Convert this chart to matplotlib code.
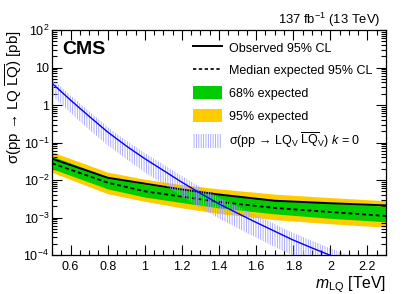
import numpy as np
import matplotlib
matplotlib.use("Agg")
import matplotlib.pyplot as plt
from matplotlib.ticker import FixedLocator, LogLocator, NullFormatter, MultipleLocator
from matplotlib.patches import Patch
from matplotlib.lines import Line2D

plt.rcParams['font.family'] = ['Liberation Sans', 'DejaVu Sans']
plt.rcParams['mathtext.fontset'] = 'custom'
plt.rcParams['mathtext.rm'] = 'Liberation Sans'
plt.rcParams['mathtext.it'] = 'Liberation Sans:italic'
plt.rcParams['mathtext.bf'] = 'Liberation Sans:bold'
plt.rcParams['hatch.linewidth'] = 0.6

# ---- data ----
masses = [0.5, 0.8, 1.0, 1.2, 1.4, 1.7, 2.0, 2.3]
observed = [0.037, 0.0115, 0.0080, 0.0056, 0.0041, 0.0028, 0.0024, 0.0021]
expected = [0.028, 0.0085, 0.0050, 0.0036, 0.0026, 0.0018, 0.0014, 0.0011]
band68_hi = [0.043, 0.0122, 0.0076, 0.0055, 0.0041, 0.0030, 0.0024, 0.0020]
band68_lo = [0.020, 0.0058, 0.0035, 0.0025, 0.0018, 0.00125, 0.00095, 0.00077]
band95_hi = [0.056, 0.0162, 0.0105, 0.0075, 0.0058, 0.0042, 0.0034, 0.0028]
band95_lo = [0.016, 0.0043, 0.0027, 0.0018, 0.00128, 0.00088, 0.00068, 0.00055]

theory_masses = [0.5, 0.6, 0.7, 0.8, 0.9, 1.0, 1.1, 1.2, 1.3, 1.4, 1.5,
                 1.6, 1.7, 1.8, 1.9, 2.0, 2.1, 2.2, 2.3]
theory = [3.8, 1.35, 0.50, 0.19, 0.081, 0.037, 0.018, 0.0087, 0.0044, 0.0023,
          0.0013, 7.4e-4, 4.3e-4, 2.5e-4, 1.55e-4, 9.8e-5, 6.3e-5, 4.1e-5, 2.7e-5]
theory_hi = [5.0, 1.8, 0.68, 0.26, 0.112, 0.052, 0.026, 0.0127, 0.0065, 0.0034,
             0.0020, 1.15e-3, 6.7e-4, 3.9e-4, 2.4e-4, 1.5e-4, 9.8e-5, 6.4e-5, 4.2e-5]
theory_lo = [1.8, 0.62, 0.22, 0.085, 0.036, 0.016, 0.0078, 0.0037, 0.0018, 9.4e-4,
             5.2e-4, 2.9e-4, 1.65e-4, 9.5e-5, 5.8e-5, 3.6e-5, 2.3e-5, 1.5e-5, 9.8e-6]

xticks = [0.6, 0.8, 1.0, 1.2, 1.4, 1.6, 1.8, 2.0, 2.2]
xticklabels = ['0.6', '0.8', '1', '1.2', '1.4', '1.6', '1.8', '2', '2.2']
yticks = [1e-4, 1e-3, 1e-2, 1e-1, 1, 10, 100]
yticklabels = [r'$10^{-4}$', r'$10^{-3}$', r'$10^{-2}$', r'$10^{-1}$', '1', '10', r'$10^{2}$']

GREEN = '#00cc00'
YELLOW = '#ffcc00'
BLUE = '#0000ff'
HATCH = '#a0a0ff'
HATCH_PAT = '|' * 7

fig = plt.figure(figsize=(4.07, 2.94), dpi=100)
ax = fig.add_axes([52/407, 39/294, 334/407, 225/294])

ax.fill_between(masses, band95_lo, band95_hi, color=YELLOW, lw=0, zorder=1)
ax.fill_between(masses, band68_lo, band68_hi, color=GREEN, lw=0, zorder=2)
ax.plot(masses, expected, color='black', lw=1.3, ls=(0, (2.2, 1.6)), zorder=3)
ax.plot(masses, observed, color='black', lw=1.4, zorder=3)
ax.fill_between(theory_masses, theory_lo, theory_hi, facecolor='none',
                edgecolor=HATCH, hatch=HATCH_PAT, lw=0, zorder=4)
ax.plot(theory_masses, theory, color=BLUE, lw=1.0, zorder=5)

ax.set_yscale('log')
ax.set_xlim(0.5, 2.3)
ax.set_ylim(1e-4, 100)

ax.xaxis.set_major_locator(FixedLocator(xticks))
ax.set_xticklabels(xticklabels)
ax.xaxis.set_minor_locator(MultipleLocator(0.05))
ax.yaxis.set_major_locator(FixedLocator(yticks))
ax.set_yticklabels(yticklabels)
ax.yaxis.set_minor_locator(LogLocator(base=10, subs=np.arange(2, 10)))
ax.yaxis.set_minor_formatter(NullFormatter())

ax.tick_params(which='both', direction='in', top=True, right=True, labelsize=9, color='black', width=0.8)
ax.tick_params(which='major', length=7)
ax.tick_params(which='minor', length=3.5)
ax.tick_params(axis='x', pad=4)
ax.tick_params(axis='y', pad=2)
for s in ax.spines.values():
    s.set_linewidth(0.9)

ax.set_xlabel(r'$m_{\mathrm{LQ}}$ [TeV]', fontsize=11.3, loc='right', labelpad=1)
ax.set_ylabel(r'σ(pp → LQ $\overline{\mathrm{LQ}}$) [pb]', fontsize=10.8, loc='top')
ax.yaxis.set_label_coords(-0.08, 1.0)

ax.text(0.03, 0.95, 'CMS', transform=ax.transAxes, fontsize=14, fontweight='bold',
        va='top', ha='left')
fig.text(380/407, 1 - 24/294, r'137 fb$^{-1}$ (13 TeV)', fontsize=9.4, ha='right', va='baseline')

handles = [
    Line2D([], [], color='black', lw=1.4),
    Line2D([], [], color='black', lw=1.2, ls=(0, (2.0, 1.5))),
    Patch(facecolor=GREEN, edgecolor='none'),
    Patch(facecolor=YELLOW, edgecolor='none'),
    Patch(facecolor='none', edgecolor=HATCH, hatch=HATCH_PAT, lw=0),
]
labels = [
    'Observed 95% CL',
    'Median expected 95% CL',
    '68% expected',
    '95% expected',
    r'σ(pp → LQ$_{\mathrm{V}}$ $\overline{\mathrm{LQ}}_{\mathrm{V}}$) $k$ = 0',
]
leg = ax.legend(handles, labels, loc='upper left', bbox_to_anchor=(0.422, 0.953),
                frameon=False, fontsize=9, handlelength=2.32, handleheight=1.28,
                handletextpad=0.56, labelspacing=0.7, borderpad=0, borderaxespad=0)

fig.savefig('out.png', dpi=100)
